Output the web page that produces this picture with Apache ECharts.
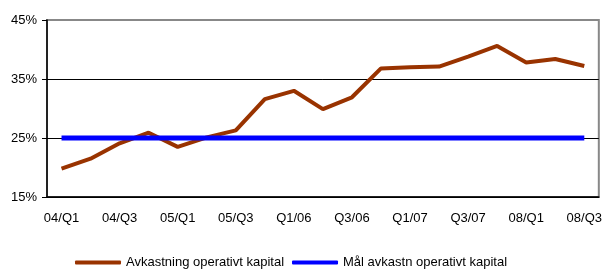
<!DOCTYPE html>
<html>
<head>
<meta charset="utf-8">
<script src="https://cdn.jsdelivr.net/npm/echarts@6/dist/echarts.min.js"></script>
<style>
  html, body { margin: 0; padding: 0; background: #fff; }
  #chart { width: 605px; height: 269px; }
</style>
</head>
<body>
<div id="chart"></div>
<script>
const categories = ['04/Q1','04/Q2','04/Q3','04/Q4','05/Q1','05/Q2','05/Q3','05/Q4',
  'Q1/06','Q2/06','Q3/06','Q4/06','Q1/07','Q2/07','Q3/07','Q4/07','08/Q1','08/Q2','08/Q3'];
const avkastning = [19.8, 21.5, 24.1, 25.9, 23.5, 25.1, 26.3, 31.6, 33.0, 29.9, 31.9,
  36.8, 37.0, 37.1, 38.8, 40.6, 37.8, 38.4, 37.2];
const malAvkastning = [25, 25, 25, 25, 25, 25, 25, 25, 25, 25, 25, 25, 25, 25, 25, 25, 25, 25, 25];
const yTicks = [15, 25, 35, 45];

const chart = echarts.init(document.getElementById('chart'));
const font = 'Liberation Sans, Arial, sans-serif';

chart.setOption({
  animation: false,
  textStyle: { fontFamily: font },
  grid: {
    left: 47, right: 6, top: 20, bottom: 72,
    show: true, borderColor: '#888', borderWidth: 2
  },
  legend: {
    left: 70, bottom: -5,
    itemWidth: 46, itemHeight: 4, itemGap: 8,
    icon: 'roundRect',
    textStyle: { fontSize: 13, color: '#000', fontFamily: font },
    data: ['Avkastning operativt kapital', 'Mål avkastn operativt kapital']
  },
  xAxis: {
    type: 'category',
    data: categories,
    boundaryGap: true,
    axisLine: { lineStyle: { color: '#000', width: 1.5 } },
    axisTick: { interval: 0, length: 5, lineStyle: { color: '#000' } },
    axisLabel: { interval: 1, fontSize: 13, color: '#000', margin: 15 }
  },
  yAxis: {
    type: 'value',
    min: yTicks[0], max: yTicks[yTicks.length - 1], interval: 10,
    axisLine: { show: true, lineStyle: { color: '#000', width: 1.5 } },
    axisTick: { show: true, length: 5, lineStyle: { color: '#000' } },
    axisLabel: { fontSize: 13, color: '#000', margin: 10, formatter: v => v + '%' },
    splitLine: { lineStyle: { color: ['#000', '#000', '#000', '#888'], width: 1 } }
  },
  series: [
    {
      name: 'Avkastning operativt kapital',
      type: 'line',
      data: avkastning,
      showSymbol: false,
      color: '#993300',
      lineStyle: { width: 4, color: '#993300' },
      z: 3
    },
    {
      name: 'Mål avkastn operativt kapital',
      type: 'line',
      data: malAvkastning,
      showSymbol: false,
      color: '#0000FF',
      lineStyle: { width: 5, color: '#0000FF' },
      z: 4
    }
  ]
});
</script>
</body>
</html>
